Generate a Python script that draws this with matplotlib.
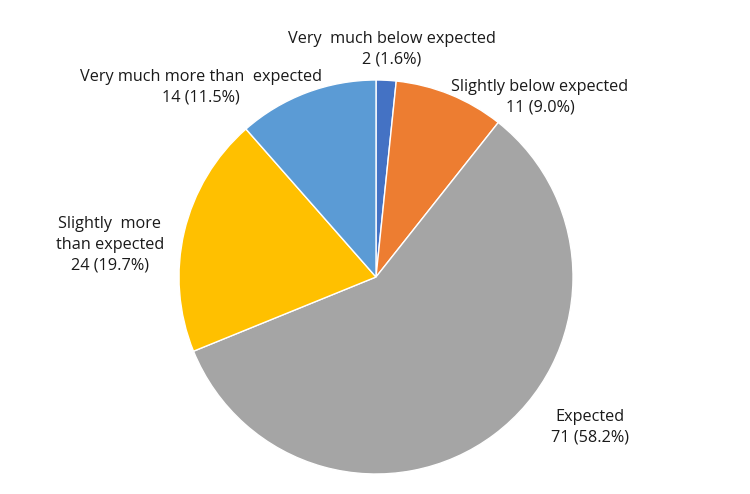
import matplotlib
matplotlib.use("Agg")
import matplotlib.pyplot as plt

categories = ["Very  much below expected", "Slightly below expected", "Expected",
              "Slightly  more\nthan expected", "Very much more than  expected"]
values = [2, 11, 71, 24, 14]
colors = ["#4472C4", "#ED7D31", "#A5A5A5", "#FFC000", "#5B9BD5"]

W, H = 750, 494
cx, cy, R = 376, 277, 197

fig = plt.figure(figsize=(W / 100, H / 100), dpi=100)
ax = fig.add_axes([0, 0, 1, 1])
ax.pie(values, colors=colors, startangle=90, counterclock=False, radius=1,
       center=(0, 0), wedgeprops=dict(edgecolor="white", linewidth=1))
ax.set_xlim((0 - cx) / R, (W - cx) / R)
ax.set_ylim((cy - H) / R, cy / R)
ax.set_aspect("auto")
ax.axis("off")

total = sum(values)
# label centre positions in pixels (x, y of centre of text block)
label_px = [(392, 49), (540, 97), (590, 427), (110, 245), (201, 87)]
for cat, v, (px, py) in zip(categories, values, label_px):
    txt = f"{cat}\n{v} ({v / total * 100:.1f}%)"
    ax.text((px - cx) / R, (cy - py) / R, txt, ha="center", va="center",
            fontsize=11.7, family="Open Sans", color="#1a1a1a", linespacing=1.38)

fig.savefig("out.png", dpi=100)
